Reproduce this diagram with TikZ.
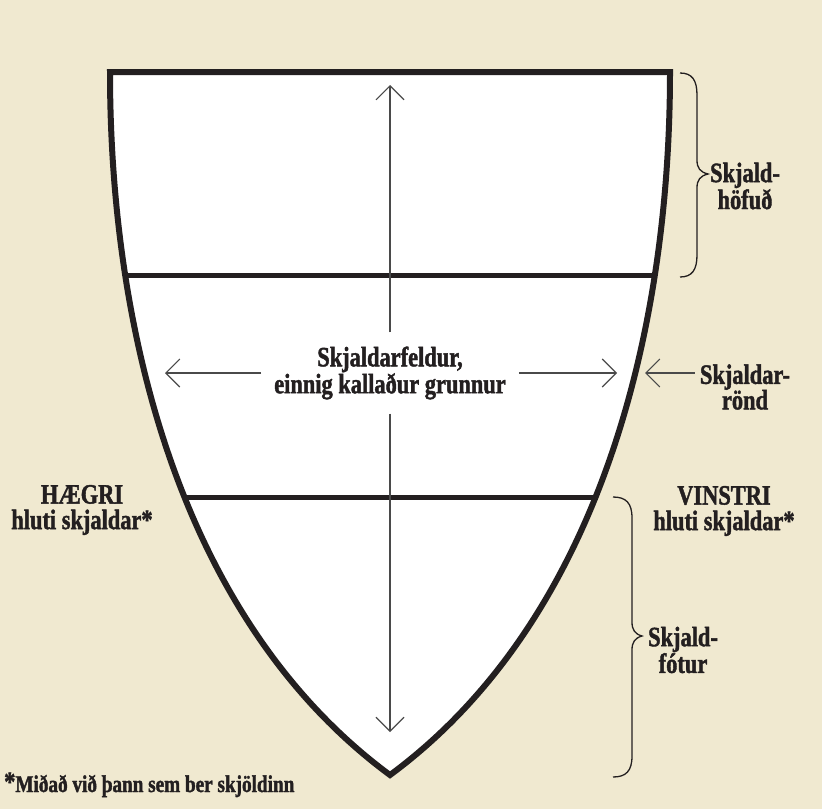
\documentclass[tikz,border=0pt]{standalone}
\usepackage{fontspec}
\setmainfont{Liberation Serif}[FakeStretch=0.8, BoldFeatures={FakeBold=1.5}]
\usetikzlibrary{arrows.meta}
\definecolor{bg}{HTML}{F0E9D0}
\definecolor{ink}{HTML}{231F20}
\definecolor{arrowgray}{HTML}{4A4A4A}
\begin{document}
\begin{tikzpicture}[x=1pt,y=-1pt,
  lab/.style={font=\fontsize{28}{25.5}\selectfont\bfseries, text=ink, align=center, inner sep=0pt},
  arr/.style={draw=arrowgray, line width=1.1pt, -{Straight Barb[length=14pt,width=28pt]}},
  bracepath/.style={draw=ink, line width=1.3pt},
  bar/.style={draw=ink, line width=5pt},
  rim/.style={draw=ink, line width=6pt, line join=miter, miter limit=20}]
\useasboundingbox (0,0) rectangle (822,809);
\fill[bg] (0,0) rectangle (822,809);
% shield body
\fill[white] (110,72) -- (670,72) .. controls (670,330) and (600,620) .. (390,775)
  .. controls (180,620) and (110,330) .. (110,72) -- cycle;
\begin{scope}
  \clip (110,72) -- (670,72) .. controls (670,330) and (600,620) .. (390,775)
    .. controls (180,620) and (110,330) .. (110,72) -- cycle;
  \draw[bar] (90,275) -- (690,275);
  \draw[bar] (90,497) -- (690,497);
\end{scope}
\draw[rim] (110,72) -- (670,72) .. controls (670,330) and (600,620) .. (390,775)
  .. controls (180,620) and (110,330) .. (110,72) -- cycle;

% central label and arrows
\node[lab, inner xsep=13pt, inner ysep=14pt] (cen) at (390,373) {Skjaldarfeldur,\\einnig kallaður grunnur};
\coordinate (vtop) at (390,85);
\coordinate (vbot) at (390,732);
\coordinate (hl) at (165,373);
\coordinate (hr) at (617,373);
\draw[arr] (cen) -- (vtop);
\draw[arr] (cen) -- (vbot);
\draw[arr] (cen) -- (hl);
\draw[arr] (cen) -- (hr);

% rim label
\node[lab, inner xsep=5pt] (ronde) at (745,387) {Skjaldar-\\rönd};
\coordinate (rtip) at (645,373);
\draw[arr] (ronde.west |- rtip) -- (rtip);

% braces
\draw[bracepath] (680,73) .. controls (692,73) and (697,80) .. (697,95) -- (697,160)
  .. controls (697,168) and (700,172) .. (708,174)
  .. controls (700,176) and (697,180) .. (697,188) -- (697,255)
  .. controls (697,270) and (692,277) .. (680,277);
\node[lab] (hofud) at (745,186) {Skjald-\\höfuð};

\draw[bracepath] (613,497) .. controls (626,497) and (632,503) .. (632,518) -- (632,622)
  .. controls (632,630) and (635,634) .. (642,636)
  .. controls (635,638) and (632,642) .. (632,650) -- (632,756)
  .. controls (632,771) and (626,777) .. (613,777);
\node[lab] (fotur) at (683,650) {Skjald-\\fótur};

% side labels
\node[lab] (haegri) at (82,510) {HÆGRI\\hluti skjaldar*};
\node[lab] (vinstri) at (724,511) {VINSTRI\\hluti skjaldar*};

% footnote
\node[font=\fontsize{24}{22}\selectfont\bfseries, text=ink, anchor=base west, inner sep=0pt] (note) at (4,792) {\raisebox{1pt}{\fontsize{28}{26}\selectfont*}Miðað við þann sem ber skjöldinn};
\end{tikzpicture}
\end{document}
